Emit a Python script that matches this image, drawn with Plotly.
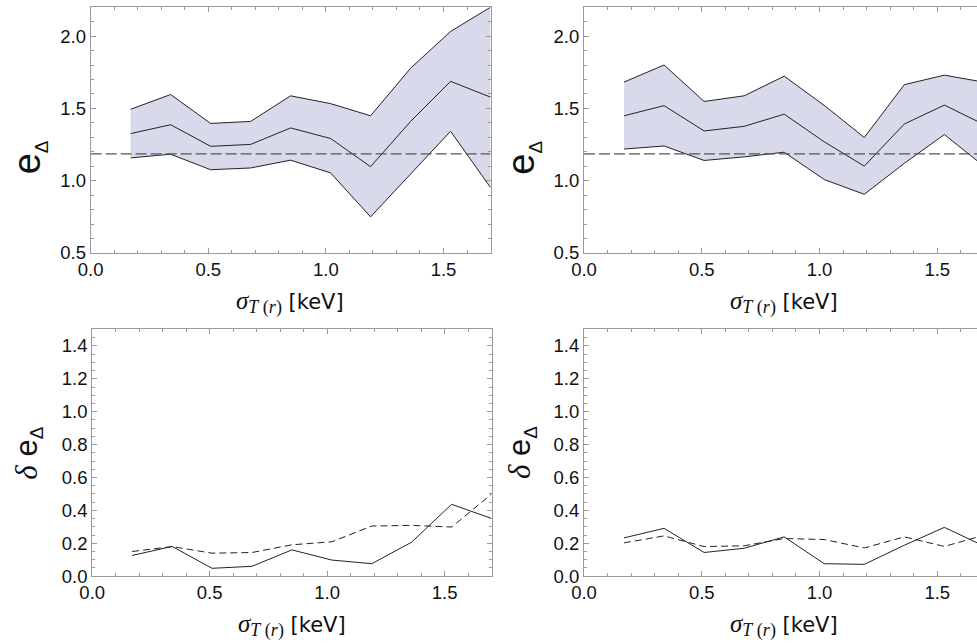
import plotly.graph_objects as go

# sigma_T(r) grid [keV]
sigma = [0.17, 0.34, 0.51, 0.68, 0.85, 1.02, 1.19, 1.36, 1.53, 1.70]

# left column: e_Delta band (lower / median / upper) and its spread
left_lower = [1.158, 1.183, 1.076, 1.088, 1.142, 1.054, 0.750, 1.047, 1.342, 0.952]
left_mid = [1.326, 1.387, 1.238, 1.251, 1.365, 1.292, 1.097, 1.410, 1.687, 1.578]
left_upper = [1.494, 1.596, 1.396, 1.410, 1.587, 1.533, 1.449, 1.778, 2.032, 2.200]
left_delta_solid = [0.126, 0.181, 0.048, 0.060, 0.160, 0.098, 0.076, 0.207, 0.437, 0.351]
left_delta_dash = [0.150, 0.180, 0.140, 0.144, 0.191, 0.209, 0.305, 0.309, 0.299, 0.499]

# right column
right_lower = [1.219, 1.240, 1.140, 1.165, 1.197, 1.008, 0.906, 1.120, 1.319, 1.098]
right_mid = [1.449, 1.519, 1.344, 1.376, 1.460, 1.269, 1.101, 1.392, 1.523, 1.387]
right_upper = [1.682, 1.800, 1.548, 1.587, 1.723, 1.521, 1.299, 1.664, 1.730, 1.681]
right_delta_solid = [0.233, 0.291, 0.144, 0.170, 0.239, 0.076, 0.072, 0.188, 0.297, 0.182]
right_delta_dash = [0.203, 0.245, 0.180, 0.185, 0.229, 0.223, 0.172, 0.239, 0.181, 0.250]

# reference level of e_Delta
e_ref = 1.185

W, H = 977, 643
FRAME = "#9a9a9a"
FILL = "rgb(216,217,234)"
LINE = "#222222"
TICKFONT = dict(family="Liberation Sans, Arial, sans-serif", size=18.5, color="#111111")


def px_x(p):
    return p / W


def px_y(p):
    return 1 - p / H


fig = go.Figure()


def add_band(xa, ya, lower, mid, upper):
    fig.add_trace(go.Scatter(x=sigma, y=lower, mode="lines", xaxis=xa, yaxis=ya,
                             line=dict(color=LINE, width=1), showlegend=False))
    fig.add_trace(go.Scatter(x=sigma, y=upper, mode="lines", xaxis=xa, yaxis=ya,
                             fill="tonexty", fillcolor=FILL,
                             line=dict(color=LINE, width=1), showlegend=False))
    fig.add_trace(go.Scatter(x=sigma, y=mid, mode="lines", xaxis=xa, yaxis=ya,
                             line=dict(color=LINE, width=1), showlegend=False))
    fig.add_trace(go.Scatter(x=[0, 1.7], y=[e_ref, e_ref], mode="lines", xaxis=xa, yaxis=ya,
                             line=dict(color="#555555", width=1.2, dash="11px,4px"),
                             showlegend=False))


def add_delta(xa, ya, solid, dash):
    fig.add_trace(go.Scatter(x=sigma, y=solid, mode="lines", xaxis=xa, yaxis=ya,
                             line=dict(color=LINE, width=1), showlegend=False))
    fig.add_trace(go.Scatter(x=sigma, y=dash, mode="lines", xaxis=xa, yaxis=ya,
                             line=dict(color=LINE, width=1, dash="7px,4px"), showlegend=False))


add_band("x", "y", left_lower, left_mid, left_upper)
add_band("x2", "y2", right_lower, right_mid, right_upper)
add_delta("x3", "y3", left_delta_solid, left_delta_dash)
add_delta("x4", "y4", right_delta_solid, right_delta_dash)


def xaxis(domain, rng, anchor):
    return dict(domain=domain, range=rng, anchor=anchor, showgrid=False, zeroline=False,
                showline=True, linecolor=FRAME, linewidth=1, mirror="ticks",
                ticks="inside", ticklen=5, tickcolor=FRAME, tickwidth=1,
                tickvals=[0.0, 0.5, 1.0, 1.5], ticktext=["0.0", "0.5", "1.0", "1.5"],
                minor=dict(ticks="inside", ticklen=3, tickcolor=FRAME, dtick=0.1, tick0=0),
                tickfont=TICKFONT)


def yaxis(domain, rng, anchor, vals, minor_dt, mirror):
    return dict(domain=domain, range=rng, anchor=anchor, showgrid=False, zeroline=False,
                showline=True, linecolor=FRAME, linewidth=1, mirror=mirror,
                ticks="inside", ticklen=5, tickcolor=FRAME, tickwidth=1,
                tickvals=vals, ticktext=[f"{v:.1f}" for v in vals],
                minor=dict(ticks="inside", ticklen=3, tickcolor=FRAME, dtick=minor_dt, tick0=0),
                tickfont=TICKFONT)


top_dom = [px_y(257), px_y(7.3)]
bot_dom = [px_y(585.3), px_y(334.7)]
left_top_x = [px_x(78.7), px_x(484)]
left_bot_x = [px_x(80.3), px_x(485)]
right_x = [px_x(578.7), 1.0]
right_rng = [0, (W - 578.7) / 238.7]

top_ticks = [0.5, 1.0, 1.5, 2.0]
bot_ticks = [0.0, 0.2, 0.4, 0.6, 0.8, 1.0, 1.2, 1.4]

fig.update_layout(
    width=W, height=H, margin=dict(l=0, r=0, t=0, b=0),
    paper_bgcolor="white", plot_bgcolor="white",
    xaxis=xaxis(left_top_x, [0, 1.7], "y"),
    yaxis=yaxis(top_dom, [0.5, 2.2], "x", top_ticks, 0.1, "ticks"),
    xaxis2=xaxis(right_x, right_rng, "y2"),
    yaxis2=yaxis(top_dom, [0.5, 2.2], "x2", top_ticks, 0.1, False),
    xaxis3=xaxis(left_bot_x, [0, 1.7], "y3"),
    yaxis3=yaxis(bot_dom, [0, 1.5], "x3", bot_ticks, 0.05, "ticks"),
    xaxis4=xaxis(right_x, right_rng, "y4"),
    yaxis4=yaxis(bot_dom, [0, 1.5], "x4", bot_ticks, 0.05, False),
)

XTITLE = ("<span style='font-family:Liberation Serif;font-size:25px'><i>σ</i></span>"
          "<sub><span style='font-family:Liberation Serif;font-size:18px'><i>T</i> (<i>r</i>)</span></sub>"
          " [keV]")
ETITLE = "e<sub><span style='font-size:19px'>Δ</span></sub>"
DTITLE = ("<span style='font-family:Liberation Serif'><i>δ</i></span> "
          "e<sub><span style='font-size:19px'>Δ</span></sub>")

SANS = "DejaVu Sans, Liberation Sans, sans-serif"
annots = [
    (XTITLE, 281, 307, 0, 21, SANS),
    (XTITLE, 781, 307, 0, 21, SANS),
    (XTITLE, 282.7, 635, 0, 21, SANS),
    (XTITLE, 781, 635, 0, 21, SANS),
    (ETITLE, 16, 160, -90, 38, "Liberation Sans, Arial, sans-serif"),
    (ETITLE, 516, 160, -90, 38, "Liberation Sans, Arial, sans-serif"),
    (DTITLE, 16, 460, -90, 31, "Liberation Sans, Arial, sans-serif"),
    (DTITLE, 516, 460, -90, 31, "Liberation Sans, Arial, sans-serif"),
]
for text, x, y, ang, size, fam in annots:
    fig.add_annotation(text=text, x=px_x(x), y=px_y(y), xref="paper", yref="paper",
                       xanchor="center", yanchor="middle", textangle=ang, showarrow=False,
                       font=dict(family=fam, size=size, color="#111111"))

fig.write_html("out.html")
